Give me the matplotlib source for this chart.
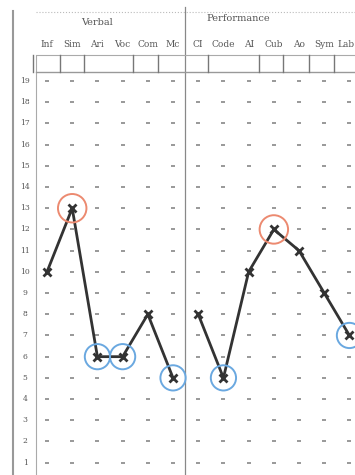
import matplotlib.pyplot as plt
import numpy as np

# subtests (verbal / performance) and scaled scores
verbal = ['Inf', 'Sim', 'Ari', 'Voc', 'Com', 'Mc']
performance = ['CI', 'Code', 'AI', 'Cub', 'Ao', 'Sym', 'Lab']
verbal_scores = [10, 13, 6, 6, 8, 5]
perf_scores = [8, 5, 10, 12, 11, 9, 7]
red_marks = ['Sim', 'Cub']
blue_marks = ['Ari', 'Voc', 'Mc', 'Code', 'Lab']
levels = list(range(1, 20))

labels = verbal + performance
xv = np.arange(len(verbal))
xp = np.arange(len(verbal), len(labels))

fig = plt.figure(figsize=(3.55, 4.75), dpi=100)
ax = fig.add_axes([0, 0, 1, 1])
ax.set_xlim(-1.865, 12.22)
ax.set_ylim(0.42, 22.82)
ax.axis('off')

ink = '#555555'
font = dict(family='DejaVu Serif', color=ink)

# dotted grid of score positions
gx, gy = np.meshgrid(np.arange(len(labels)), levels)
ax.scatter(gx.ravel(), gy.ravel(), marker='_', s=10, color='#888888', lw=1.2, zorder=1)

# frame lines
ax.plot([-1.35, -1.35], [0.42, 22.3], color='#999999', lw=1.5)
ax.plot([-0.44, -0.44], [0.42, 20.2], color='#aaaaaa', lw=0.8)
ax.plot([5.48, 5.48], [0.42, 22.5], color='#888888', lw=0.9)
ax.plot([-0.44, 12.3], [22.25, 22.25], color='#bbbbbb', lw=0.8, ls=':')
ax.plot([-0.44, 12.3], [20.23, 20.23], color='#aaaaaa', lw=0.8)
ax.plot([-0.44, 12.3], [19.42, 19.42], color='#999999', lw=1.0)
for b in [-0.55, 0.5, 1.45, 3.4, 4.4, 6.4, 8.4, 9.35, 10.4, 11.4]:
    ax.plot([b, b], [19.42, 20.23], color='#777777', lw=1.0)

# header text
ax.text(2.0, 21.78, 'Verbal', ha='center', va='center', fontsize=7, **font)
ax.text(7.6, 21.97, 'Performance', ha='center', va='center', fontsize=7, **font)
for i, lab in enumerate(labels):
    if i == len(labels) - 1:
        ax.text(12.2, 20.7, lab, ha='right', va='center', fontsize=6.5, **font)
    else:
        ax.text(i, 20.7, lab, ha='center', va='center', fontsize=6.5, **font)

# score labels down the left
for v in levels:
    ax.text(-0.87, v, str(v), ha='center', va='center', fontsize=5.5, **font)

# profile lines
ax.plot(xv, verbal_scores, color='#333333', lw=2.0, marker='x', ms=6, mew=2, zorder=3)
ax.plot(xp, perf_scores, color='#333333', lw=2.0, marker='x', ms=6, mew=2, zorder=3)

scores = dict(zip(labels, verbal_scores + perf_scores))
for lab in red_marks:
    ax.scatter(labels.index(lab), scores[lab], s=420, facecolors='none',
               edgecolors='#ec8a70', lw=1.4, zorder=4)
for lab in blue_marks:
    ax.scatter(labels.index(lab), scores[lab], s=330, facecolors='none',
               edgecolors='#6aa8e0', lw=1.4, zorder=4)

fig.savefig('out.png', dpi=100, facecolor='white')
